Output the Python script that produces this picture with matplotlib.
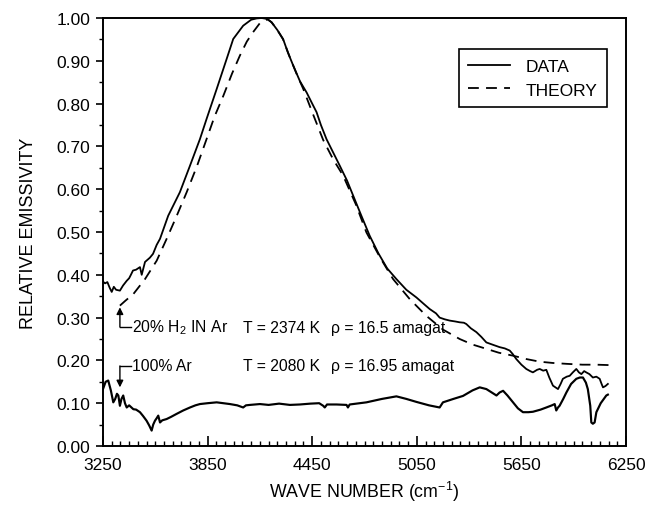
import matplotlib
matplotlib.use("Agg")
import matplotlib.pyplot as plt
from matplotlib.ticker import MultipleLocator, FormatStrFormatter

plt.rcParams['font.family'] = ['Liberation Sans', 'DejaVu Sans']

# ---- data ----
data_wn = [3250, 3262, 3275, 3288, 3300, 3312, 3325, 3347, 3365, 3386, 3400, 3410, 3422, 3440,
           3462, 3472, 3491, 3519, 3537, 3558, 3577, 3624, 3691, 3749, 3806, 3844, 3902, 3959,
           3997, 4054, 4100, 4131, 4160, 4190, 4217, 4250, 4283, 4310, 4341, 4380, 4418, 4450,
           4475, 4500, 4532, 4570, 4608, 4650, 4685, 4730, 4780, 4830, 4880, 4933, 4990, 5048,
           5090, 5124, 5160, 5181, 5210, 5239, 5270, 5296, 5320, 5334, 5360, 5392, 5420, 5449,
           5490, 5525, 5555, 5583, 5600, 5621, 5650, 5678, 5700, 5716, 5740, 5755, 5775, 5793,
           5810, 5831, 5860, 5875, 5888, 5910, 5927, 5945, 5965, 5980, 5994, 6010, 6022, 6040,
           6060, 6080, 6099, 6110, 6118, 6132, 6146]
data_em = [0.384, 0.380, 0.383, 0.370, 0.360, 0.372, 0.365, 0.363, 0.375, 0.386, 0.392, 0.400,
           0.410, 0.412, 0.418, 0.400, 0.430, 0.440, 0.449, 0.470, 0.484, 0.538, 0.593, 0.655,
           0.717, 0.764, 0.834, 0.904, 0.951, 0.982, 0.996, 0.999, 1.000, 0.998, 0.990, 0.972,
           0.951, 0.920, 0.889, 0.852, 0.826, 0.800, 0.780, 0.750, 0.717, 0.686, 0.655, 0.620,
           0.585, 0.540, 0.491, 0.450, 0.415, 0.390, 0.365, 0.347, 0.332, 0.320, 0.310, 0.300,
           0.296, 0.293, 0.291, 0.289, 0.288, 0.285, 0.275, 0.266, 0.255, 0.242, 0.236, 0.231,
           0.228, 0.223, 0.215, 0.203, 0.190, 0.180, 0.175, 0.172, 0.178, 0.180, 0.176, 0.178,
           0.160, 0.141, 0.133, 0.145, 0.157, 0.162, 0.164, 0.172, 0.180, 0.172, 0.168, 0.175,
           0.172, 0.168, 0.160, 0.162, 0.157, 0.145, 0.137, 0.140, 0.145]

theory_wn = [3347, 3380, 3424, 3491, 3558, 3615, 3670, 3730, 3790, 3844, 3890, 3940, 3990, 4035,
             4075, 4111, 4150, 4178, 4195, 4217, 4250, 4283, 4320, 4360, 4398, 4450, 4513, 4570,
             4627, 4700, 4761, 4840, 4914, 5010, 5105, 5200, 5296, 5370, 5449, 5520, 5602, 5680,
             5755, 5830, 5908, 6000, 6080, 6156]
theory_em = [0.328, 0.340, 0.355, 0.390, 0.433, 0.484, 0.535, 0.593, 0.655, 0.717, 0.770, 0.818,
             0.870, 0.912, 0.945, 0.967, 0.988, 0.994, 0.997, 0.990, 0.972, 0.950, 0.910, 0.870,
             0.835, 0.780, 0.715, 0.670, 0.632, 0.565, 0.499, 0.440, 0.390, 0.343, 0.304, 0.272,
             0.250, 0.237, 0.227, 0.218, 0.211, 0.203, 0.197, 0.194, 0.192, 0.190, 0.190, 0.189]

ar_wn = [3250, 3265, 3280, 3295, 3309, 3320, 3330, 3338, 3347, 3356, 3366, 3376, 3386, 3400,
         3424, 3440, 3462, 3480, 3500, 3515, 3529, 3538, 3548, 3558, 3567, 3577, 3590, 3615,
         3640, 3672, 3710, 3749, 3780, 3806, 3850, 3902, 3940, 3978, 4020, 4054, 4070, 4093,
         4150, 4200, 4260, 4322, 4379, 4440, 4490, 4513, 4522, 4535, 4590, 4647, 4655, 4665,
         4761, 4850, 4933, 4990, 5048, 5120, 5181, 5200, 5260, 5315, 5370, 5411, 5449, 5480,
         5507, 5525, 5545, 5570, 5602, 5630, 5659, 5690, 5716, 5760, 5793, 5825, 5841, 5850,
         5860, 5869, 5890, 5908, 5935, 5965, 5985, 6003, 6020, 6031, 6045, 6051, 6060, 6070,
         6080, 6105, 6137, 6146]
ar_em = [0.133, 0.150, 0.153, 0.130, 0.102, 0.110, 0.122, 0.118, 0.094, 0.110, 0.118, 0.100,
         0.090, 0.095, 0.086, 0.085, 0.079, 0.070, 0.059, 0.048, 0.036, 0.050, 0.059, 0.065,
         0.071, 0.055, 0.060, 0.063, 0.068, 0.075, 0.083, 0.090, 0.095, 0.098, 0.100, 0.102,
         0.100, 0.098, 0.095, 0.090, 0.095, 0.096, 0.098, 0.096, 0.099, 0.096, 0.097, 0.099,
         0.100, 0.094, 0.090, 0.097, 0.097, 0.096, 0.090, 0.097, 0.102, 0.110, 0.116, 0.110,
         0.103, 0.095, 0.090, 0.102, 0.110, 0.117, 0.130, 0.137, 0.133, 0.125, 0.118, 0.125,
         0.129, 0.118, 0.102, 0.088, 0.079, 0.079, 0.080, 0.085, 0.090, 0.095, 0.098, 0.083,
         0.090, 0.094, 0.110, 0.125, 0.145, 0.157, 0.160, 0.160, 0.148, 0.133, 0.094, 0.055,
         0.052, 0.055, 0.079, 0.100, 0.118, 0.120]

x_ticks = [3250, 3850, 4450, 5050, 5650, 6250]

# ---- figure ----
fig = plt.figure(figsize=(6.48, 5.06), dpi=100)
ax = fig.add_axes([103/648, 1 - 447/506, (626 - 103)/648, (447 - 19)/506])

lw = 1.3
ax.plot(data_wn, data_em, color='black', lw=lw, label='DATA')
ax.plot(theory_wn, theory_em, color='black', lw=lw, ls=(0, (6, 4)), label='THEORY')
ax.plot(ar_wn, ar_em, color='black', lw=lw * 1.2)

ax.set_xlim(3250, 6250)
ax.set_ylim(0, 1.0)
ax.set_xticks(x_ticks)
ax.xaxis.set_minor_locator(MultipleLocator(50))
ax.yaxis.set_major_locator(MultipleLocator(0.1))
ax.yaxis.set_minor_locator(MultipleLocator(0.05))
ax.yaxis.set_major_formatter(FormatStrFormatter('%.2f'))

fs = 12.5
ax.tick_params(axis='x', which='major', direction='in', length=7, width=1.2, labelsize=fs, pad=8)
ax.tick_params(axis='x', which='minor', direction='in', length=3.5, width=1.0)
ax.tick_params(axis='y', which='major', direction='out', length=5, width=1.2, labelsize=fs, pad=4)
ax.tick_params(axis='y', which='minor', direction='out', length=3, width=1.0)
for s in ax.spines.values():
    s.set_linewidth(1.4)

ax.set_xlabel('WAVE NUMBER (cm$^{\\mathregular{-1}}$)', fontsize=12.8, labelpad=5)
ax.set_ylabel('RELATIVE EMISSIVITY', fontsize=13, labelpad=14)

# ---- annotations ----
arrow_x = 3347
h2_text_y = 0.278
h2_arrow_tip = 0.324
ar_text_y = 0.187
ar_arrow_tip = 0.137
text_x1, text_x2, text_x3 = 3415, 4054, 4557

ax.annotate('', xy=(arrow_x, h2_arrow_tip), xytext=(arrow_x, h2_text_y),
            arrowprops=dict(arrowstyle='-|>', color='black', lw=1.0, mutation_scale=10,
                            shrinkA=0, shrinkB=0))
ax.plot([arrow_x, text_x1 - 5], [h2_text_y, h2_text_y], color='black', lw=1.0)
ax.annotate('', xy=(arrow_x, ar_arrow_tip), xytext=(arrow_x, ar_text_y),
            arrowprops=dict(arrowstyle='-|>', color='black', lw=1.0, mutation_scale=10,
                            shrinkA=0, shrinkB=0))
ax.plot([arrow_x, text_x1 - 5], [ar_text_y, ar_text_y], color='black', lw=1.0)

tfs = 11.3
ax.text(text_x1, h2_text_y, '20% H$_{\\mathregular{2}}$ IN Ar', fontsize=tfs, va='center', ha='left')
ax.text(text_x2, h2_text_y, 'T = 2374 K', fontsize=tfs, va='center', ha='left')
ax.text(text_x3, h2_text_y, 'ρ = 16.5 amagat', fontsize=tfs, va='center', ha='left')
ax.text(text_x1, ar_text_y, '100% Ar', fontsize=tfs, va='center', ha='left')
ax.text(text_x2, ar_text_y, 'T = 2080 K', fontsize=tfs, va='center', ha='left')
ax.text(text_x3, ar_text_y, 'ρ = 16.95 amagat', fontsize=tfs, va='center', ha='left')

leg = ax.legend(loc='upper right', bbox_to_anchor=(607/648, 1 - 50/506),
                bbox_transform=fig.transFigure, fancybox=False, edgecolor='black',
                framealpha=1, fontsize=fs, handlelength=2.4, borderpad=0.55,
                labelspacing=0.5, handletextpad=0.9, borderaxespad=0)
leg.get_frame().set_linewidth(1.2)

fig.savefig('out.png', dpi=100)
